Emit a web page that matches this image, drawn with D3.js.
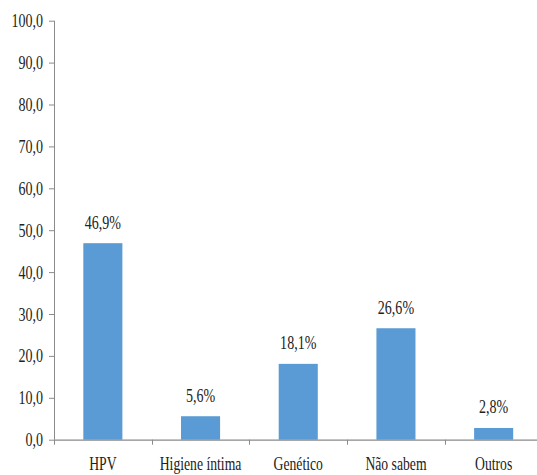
<!DOCTYPE html>
<html>
<head>
<meta charset="utf-8">
<script src="https://cdn.jsdelivr.net/npm/d3@7"></script>
<style>
  html, body { margin: 0; padding: 0; background: #fff; }
  svg { display: block; }
</style>
</head>
<body>
<script>
// Perceived causes of cervical cancer (% of respondents)
const categories = ["HPV", "Higiene íntima", "Genético", "Não sabem", "Outros"];
const values = [46.9, 5.6, 18.1, 26.6, 2.8];
const valueLabels = ["46,9%", "5,6%", "18,1%", "26,6%", "2,8%"];
const yTicks = [0, 10, 20, 30, 40, 50, 60, 70, 80, 90, 100];

const W = 537, H = 475;
const axisLeft = 54, axisBottom = 439.7, axisTop = 20.7, axisRight = 542.5;
const fontFamily = "'Liberation Serif', 'Times New Roman', serif";
const textSqueeze = 0.72; // narrow serif lettering

const svg = d3.select("body").append("svg")
  .attr("width", W).attr("height", H);

const x = d3.scaleBand()
  .domain(categories)
  .range([axisLeft, axisRight])
  .paddingInner(0.6)
  .paddingOuter(0.3);

const y = d3.scaleLinear().domain([0, 100]).range([axisBottom, axisTop]);

const fmt = v => v.toFixed(1).replace(".", ",");

// helper: squeezed text placed at (px, py)
function label(g, px, py, txt, anchor, size) {
  g.append("g")
    .attr("transform", `translate(${px},${py}) scale(${textSqueeze},1)`)
    .append("text")
    .attr("text-anchor", anchor)
    .attr("font-family", fontFamily)
    .attr("font-size", size)
    .attr("fill", "#222")
    .text(txt);
}

// Bars
svg.append("g").selectAll("rect")
  .data(categories)
  .join("rect")
  .attr("x", d => x(d))
  .attr("width", x.bandwidth())
  .attr("y", (d, i) => y(values[i]))
  .attr("height", (d, i) => y(0) - y(values[i]))
  .attr("fill", "#5b9bd5");

// Value labels
const vl = svg.append("g");
categories.forEach((c, i) => {
  label(vl, x(c) + x.bandwidth() / 2, y(values[i]) - 14.5, valueLabels[i], "middle", 19.5);
});

// Y axis
const axisColor = "#8a8a8a";
const yAxis = svg.append("g")
  .attr("transform", `translate(${axisLeft},0)`)
  .call(d3.axisLeft(y).tickValues(yTicks).tickSize(5).tickFormat(""));
yAxis.select(".domain").attr("stroke", axisColor).attr("d", `M0.5,${axisTop}V${axisBottom}`);
yAxis.selectAll(".tick line").attr("stroke", axisColor);

const yl = svg.append("g");
yTicks.forEach(t => {
  label(yl, 43, y(t) + 6.5, fmt(t), "end", 19.5);
});

// X axis with category boundary ticks
const xAxis = svg.append("g")
  .attr("transform", `translate(0,${axisBottom})`);
xAxis.append("line")
  .attr("x1", axisLeft).attr("x2", axisRight)
  .attr("y1", 0.5).attr("y2", 0.5)
  .attr("stroke", axisColor).attr("stroke-width", 1.3);
xAxis.selectAll("line.sep")
  .data(d3.range(categories.length))
  .join("line")
  .attr("class", "sep")
  .attr("x1", i => Math.round(x.step() * i + axisLeft) + 0.5)
  .attr("x2", i => Math.round(x.step() * i + axisLeft) + 0.5)
  .attr("y1", 0).attr("y2", 5)
  .attr("stroke", axisColor);

const xl = svg.append("g");
categories.forEach(c => {
  label(xl, x(c) + x.bandwidth() / 2, 469.5, c, "middle", 19);
});
</script>
</body>
</html>
